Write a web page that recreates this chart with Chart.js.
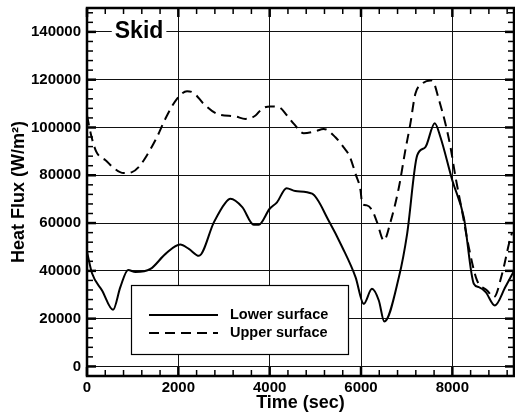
<!DOCTYPE html>
<html lang="en">
<head>
<meta charset="UTF-8">
<title>Skid Heat Flux</title>
<script src="https://cdn.jsdelivr.net/npm/chart.js"></script>
<style>
  body { margin: 0; background: #fff; }
</style>
</head>
<body>
<canvas id="fluxChart" width="515" height="415"></canvas>
<script>
    // heat flux on the skid, lower and upper surface (W/m^2 vs sec)
    const lowerTime = [0, 110, 330, 570, 730, 900, 1060, 1390, 1720, 2040, 2230, 2450, 2780, 3030, 3140, 3400, 3650, 3760, 4000, 4160, 4370, 4560, 4930, 5290, 5590, 5880, 6060, 6240, 6390, 6510, 6830, 7010, 7230, 7410, 7615, 7740, 8000, 8250, 8470, 8580, 8730, 8930, 9160, 9350];
    const lowerFlux = [48000, 39000, 31800, 23700, 33200, 40400, 39500, 40800, 47100, 51000, 49200, 46300, 60400, 68500, 70200, 66700, 59300, 59300, 66000, 68700, 74600, 73400, 72300, 61100, 49900, 37400, 26200, 32500, 27600, 18800, 37400, 55500, 88300, 91800, 101800, 95900, 77800, 62500, 34600, 33200, 31100, 25500, 33200, 40000];

    const upperTime = [0, 100, 200, 300, 400, 580, 800, 985, 1130, 1310, 1530, 1715, 1970, 2190, 2340, 2555, 2850, 3250, 3470, 3690, 3830, 4015, 4200, 4380, 4530, 4745, 5000, 5180, 5440, 5620, 5750, 5880, 5990, 6025, 6130, 6245, 6350, 6500, 6645, 6830, 6970, 7080, 7190, 7340, 7520, 7590, 7700, 7850, 7960, 8070, 8210, 8360, 8540, 8760, 8910, 9090, 9240, 9310];
    const upperFlux = [105000, 96000, 90000, 87500, 86400, 83100, 80900, 81300, 83400, 88300, 95900, 103600, 112000, 115200, 114400, 109900, 105700, 104600, 103600, 105000, 107800, 108800, 108500, 105000, 101500, 97600, 98400, 99400, 95900, 91700, 88000, 80600, 73600, 68100, 67400, 65300, 60400, 52700, 60400, 75000, 90400, 101500, 114100, 118300, 119700, 118900, 112000, 101500, 91700, 79200, 65300, 49900, 36000, 31800, 29000, 38800, 51300, 56200];

    const xTicks = [0, 2000, 4000, 6000, 8000];
    const yTicks = [0, 20000, 40000, 60000, 80000, 100000, 120000, 140000];
    const xMinorStep = 400;
    const yMinorStep = 4000;

    const FONT = '"Liberation Sans", Arial, sans-serif';

    function toPoints(ts, vs) {
        return ts.map((t, i) => ({x: t, y: vs[i]}));
    }

    // inward tick marks on all four sides plus the heavy frame
    const frameTicks = {
        id: 'frameTicks',
        afterDatasetsDraw(chart) {
            const {ctx, chartArea: a, scales: {x, y}} = chart;
            ctx.save();
            ctx.strokeStyle = '#000';
            const tick = (x1, y1, x2, y2, w) => {
                ctx.lineWidth = w;
                ctx.beginPath();
                ctx.moveTo(x1, y1);
                ctx.lineTo(x2, y2);
                ctx.stroke();
            };
            for (let v = 0; v <= x.max; v += xMinorStep) {
                const px = x.getPixelForValue(v);
                const major = xTicks.includes(v);
                const len = major ? 9 : 6;
                const w = major ? 2.5 : 1.5;
                tick(px, a.bottom, px, a.bottom - len, w);
                tick(px, a.top, px, a.top + len, w);
            }
            for (let v = 0; v <= y.max; v += yMinorStep) {
                const py = y.getPixelForValue(v);
                const major = yTicks.includes(v);
                const len = major ? 9 : 6;
                const w = major ? 2.5 : 1.5;
                tick(a.left, py, a.left + len, py, w);
                tick(a.right, py, a.right - len, py, w);
            }
            ctx.lineWidth = 2.5;
            ctx.strokeRect(a.left, a.top, a.right - a.left, a.bottom - a.top);
            ctx.restore();
        }
    };

    // "Skid" tag sitting on the top grid line
    const skidTag = {
        id: 'skidTag',
        afterDatasetsDraw(chart) {
            const {ctx, scales: {x, y}} = chart;
            const cx = x.getPixelForValue(1140);
            const cy = y.getPixelForValue(140000);
            ctx.save();
            ctx.font = 'bold 23px ' + FONT;
            const w = ctx.measureText('Skid').width;
            ctx.fillStyle = '#fff';
            ctx.fillRect(cx - w / 2 - 3, cy - 11, w + 6, 22);
            ctx.fillStyle = '#000';
            ctx.textAlign = 'center';
            ctx.textBaseline = 'middle';
            ctx.fillText('Skid', cx, cy);
            ctx.restore();
        }
    };

    // boxed legend in the lower left of the plot
    const boxLegend = {
        id: 'boxLegend',
        afterDatasetsDraw(chart) {
            const {ctx} = chart;
            const box = {x: 131.5, y: 285.5, w: 217, h: 69};
            ctx.save();
            ctx.fillStyle = '#fff';
            ctx.fillRect(box.x, box.y, box.w, box.h);
            ctx.strokeStyle = '#000';
            ctx.lineWidth = 1.2;
            ctx.strokeRect(box.x, box.y, box.w, box.h);
            ctx.font = 'bold 14.5px ' + FONT;
            ctx.textBaseline = 'middle';
            chart.data.datasets.forEach((ds, i) => {
                const ly = 315 + i * 18;
                ctx.setLineDash(ds.borderDash || []);
                ctx.lineWidth = 2;
                ctx.beginPath();
                ctx.moveTo(149, ly);
                ctx.lineTo(218, ly);
                ctx.stroke();
                ctx.setLineDash([]);
                ctx.fillStyle = '#000';
                ctx.fillText(ds.label, 230, ly);
            });
            ctx.restore();
        }
    };

    Chart.defaults.font.family = FONT;
    Chart.defaults.color = '#000';

    new Chart(document.getElementById('fluxChart'), {
        type: 'scatter',
        data: {
            datasets: [{
                label: 'Lower surface',
                data: toPoints(lowerTime, lowerFlux),
                showLine: true,
                borderColor: '#000',
                borderWidth: 2,
                pointRadius: 0,
                cubicInterpolationMode: 'monotone'
            }, {
                label: 'Upper surface',
                data: toPoints(upperTime, upperFlux),
                showLine: true,
                borderColor: '#000',
                borderWidth: 2,
                borderDash: [10, 6],
                pointRadius: 0,
                cubicInterpolationMode: 'monotone'
            }]
        },
        options: {
            responsive: false,
            animation: false,
            layout: {padding: {top: 8, right: 1, left: 0, bottom: 0}},
            plugins: {
                legend: {display: false},
                tooltip: {enabled: false}
            },
            scales: {
                x: {
                    type: 'linear',
                    min: 0,
                    max: 9350,
                    afterBuildTicks: s => { s.ticks = xTicks.map(v => ({value: v})); },
                    afterFit: s => { s.height = 39; s.paddingLeft = 0; s.paddingRight = 0; },
                    grid: {color: '#111', lineWidth: 1, drawTicks: false},
                    border: {display: false},
                    ticks: {padding: 3, maxRotation: 0, font: {size: 15, weight: 'bold'}, callback: v => String(v)},
                    title: {
                        display: true,
                        text: 'Time (sec)',
                        font: {size: 18, weight: 'bold'},
                        padding: {top: 0, bottom: 1}
                    }
                },
                y: {
                    min: -4000,
                    max: 150000,
                    afterBuildTicks: s => { s.ticks = yTicks.map(v => ({value: v})); },
                    afterFit: s => { s.width = 87; s.paddingTop = 0; s.paddingBottom = 0; },
                    grid: {color: '#111', lineWidth: 1, drawTicks: false},
                    border: {display: false},
                    ticks: {padding: 6, font: {size: 15, weight: 'bold'}, callback: v => String(v)},
                    title: {
                        display: true,
                        text: 'Heat Flux (W/m²)',
                        font: {size: 18, weight: 'bold'},
                        padding: 8
                    }
                }
            }
        },
        plugins: [frameTicks, skidTag, boxLegend]
    });
</script>
</body>
</html>
